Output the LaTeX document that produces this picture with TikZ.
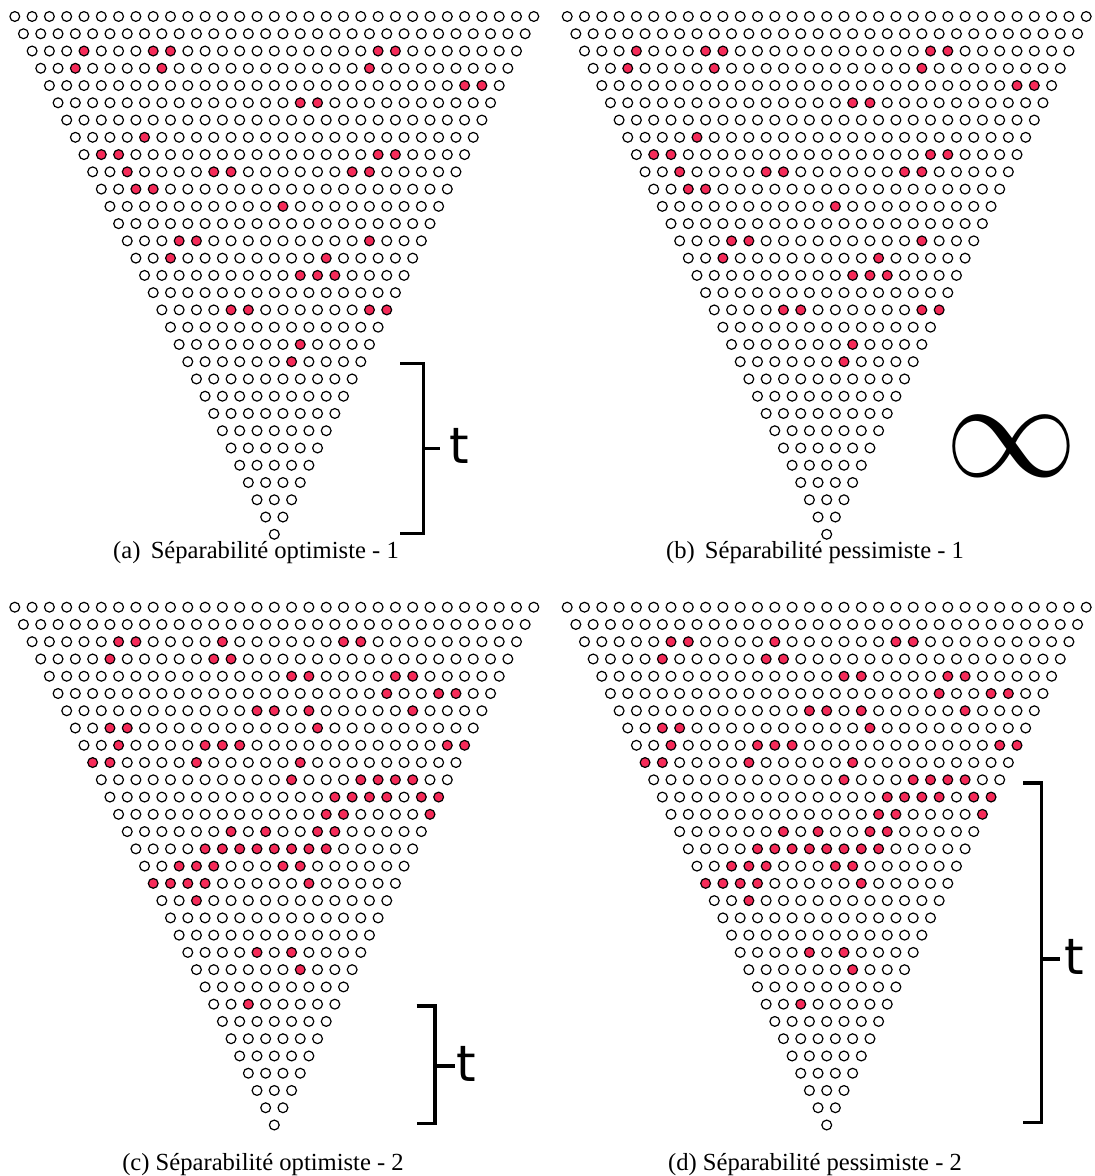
\documentclass[tikz,border=0pt]{standalone}
\usepackage{fontspec}
\setmainfont{Liberation Serif}
\newfontfamily\tfont{DejaVu Sans}
\definecolor{cdot}{HTML}{F62B59}
\tikzset{
  every picture/.style={line width=0.6pt},
  dot/.style={circle, draw=black, fill=white, inner sep=0pt, minimum size=4.9pt},
  reddot/.style={dot, fill=cdot},
  brace/.style={line width=1.65pt},
  tlabel/.style={font=\tfont\fontsize{25}{30}\selectfont, inner sep=0pt},
  caption/.style={font=\fontsize{12.3}{15}\selectfont, inner sep=0pt},
}
\makeatletter
\newcommand\setdotkind[2]{%
  \edef\dotargs{{,#1,}{,#2,}}%
  \expandafter\in@\dotargs
  \ifin@\def\dotkind{reddot}\else\def\dotkind{dot}\fi}
\makeatother
\newcommand\setreds[3]{\expandafter\def\csname reds#1-#2\endcsname{#3}}
\setreds{A}{2}{3,7,8,20,21}
\setreds{A}{3}{2,7,19}
\setreds{A}{4}{24,25}
\setreds{A}{5}{14,15}
\setreds{A}{7}{4}
\setreds{A}{8}{1,2,17,18}
\setreds{A}{9}{2,7,8,15,16}
\setreds{A}{10}{2,3}
\setreds{A}{11}{10}
\setreds{A}{13}{3,4,14}
\setreds{A}{14}{2,11}
\setreds{A}{15}{9,10,11}
\setreds{A}{17}{4,5,12,13}
\setreds{A}{19}{7}
\setreds{A}{20}{6}
\setreds{C}{2}{5,6,11,18,19}
\setreds{C}{3}{4,10,11}
\setreds{C}{4}{14,15,20,21}
\setreds{C}{5}{19,22,23}
\setreds{C}{6}{11,12,14,20}
\setreds{C}{7}{2,3,14}
\setreds{C}{8}{2,7,8,9,21,22}
\setreds{C}{9}{0,1,6,12}
\setreds{C}{10}{11,15,16,17,18}
\setreds{C}{11}{13,14,15,16,18,19}
\setreds{C}{12}{12,13,18}
\setreds{C}{13}{6,8,11,12}
\setreds{C}{14}{4,5,6,7,8,9,10,11}
\setreds{C}{15}{2,3,4,8,9}
\setreds{C}{16}{0,1,2,3,9}
\setreds{C}{17}{2}
\setreds{C}{20}{4,6}
\setreds{C}{21}{6}
\setreds{C}{23}{2}

\begin{document}
\begin{tikzpicture}[x=0.5pt, y=-0.5pt]
  \fill[white] (0,0) rectangle (1094,1176);
  \foreach \tri/\pat/\cx/\ty in {a/A/274.3/16.5, b/A/826.7/16.5, c/C/274.3/607.2, d/C/826.7/607.2} {
    \foreach \row in {0,...,30} {
      \pgfmathtruncatemacro\last{30-\row}
      \ifcsname reds\pat-\row\endcsname
        \edef\redlist{\csname reds\pat-\row\endcsname}
      \else
        \def\redlist{}
      \fi
      \foreach \col in {0,...,\last} {
        \setdotkind{\col}{\redlist}
        \node[\dotkind] (\tri\row-\col) at ({\cx+(\col-\last/2)*17.3}, {\ty+\row*17.26}) {};
      }
    }
  }
  \foreach \tri/\xl/\xv/\xt/\ytop/\ymid/\ybot/\tx in {a/400/423.3/440/363.3/448.3/533.3/449, c/416.7/435/455/1006/1066/1123.3/455.6, d/1023/1041.7/1060/783/959/1122.7/1064} {
    \draw[brace] (\xl,\ytop) -- (\xv,\ytop) -- (\xv,\ybot) -- (\xl,\ybot);
    \draw[brace] (\xv,\ymid) -- (\xt,\ymid);
    \node[tlabel, anchor=base west] (t\tri) at (\tx,\ymid+15) {t};
  }
  \node[inner sep=0pt, xscale=6.6, yscale=7] (inf) at (1011.7,446.7) {$\infty$};
  \node[caption, anchor=base] (capa) at (256,558) {(a)~\,Séparabilité optimiste - 1};
  \node[caption, anchor=base] (capb) at (815,558) {(b)~\,Séparabilité pessimiste - 1};
  \node[caption, anchor=base] (capc) at (263,1170.5) {(c) Séparabilité optimiste - 2};
  \node[caption, anchor=base] (capd) at (815,1170.5) {(d) Séparabilité pessimiste - 2};
\end{tikzpicture}
\end{document}
